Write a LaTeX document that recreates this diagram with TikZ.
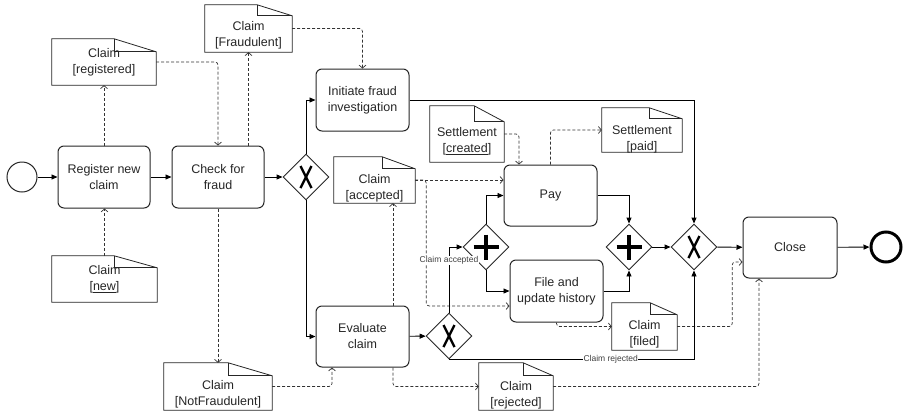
\documentclass[tikz,border=0pt]{standalone}
\usepackage{fontspec}
\setmainfont{Liberation Sans}
\usetikzlibrary{shapes.geometric,arrows.meta,calc}

% folded-corner outline of a data object, drawn round an (empty) named node
% #1 node name, #2 fold width, #3 fold height
\newcommand\docframe[3]{%
  \draw[docline] (#1.south west) -- (#1.north west) -- ([xshift=-#2pt]#1.north east)
    -- ([yshift=-#3pt]#1.north east) -- (#1.south east) -- cycle;
  \draw[docline] ([xshift=-#2pt]#1.north east) |- ([yshift=-#3pt]#1.north east);}

% gateway markers
\newcommand\xmark[1]{%
  \draw[xsym] ([shift={(-5.5,-11)}]#1.center) -- ([shift={(5.5,11)}]#1.center);
  \draw[xsym] ([shift={(5.5,-11)}]#1.center) -- ([shift={(-5.5,11)}]#1.center);}
\newcommand\pmark[1]{%
  \draw[psym] ([shift={(-12.5,0)}]#1.center) -- ([shift={(12.5,0)}]#1.center);
  \draw[psym] ([shift={(0,-12.5)}]#1.center) -- ([shift={(0,12.5)}]#1.center);}

\begin{document}
\begin{tikzpicture}[x=1pt,y=-1pt,
  font=\fontsize{12.5}{16}\selectfont,
  task/.style={draw=black!85,line width=1pt,rounded corners=6pt,minimum width=93pt,
    minimum height=62pt,align=center,inner sep=0pt,text=black!85},
  gate/.style={draw=black!85,line width=0.9pt,diamond,minimum size=46pt,inner sep=0pt,aspect=1},
  doc/.style={inner sep=0pt,draw=none},
  docline/.style={draw=black!85,line width=0.8pt,line join=miter},
  doctext/.style={align=center,inner sep=0pt,text=black!85},
  xsym/.style={line width=2.4pt,black},
  psym/.style={line width=3.8pt,black},
  flow/.style={draw=black,line width=0.9pt,-{Triangle[length=6pt,width=5pt]}},
  assoc/.style={draw=black!80,line width=0.7pt,dash pattern=on 3pt off 2pt,rounded corners=3pt,
    -{Straight Barb[length=3pt,width=7pt]}},
  lbl/.style={font=\fontsize{8.5}{10}\selectfont,fill=white,inner sep=0.5pt,text=black!75},
  startev/.style={circle,draw=black!85,line width=1pt,minimum size=30pt,inner sep=0pt},
  endev/.style={circle,draw=black,line width=3pt,minimum size=30pt,inner sep=0pt}
]
\fill[white] (0,0) rectangle (903,413);
\useasboundingbox (0,0) rectangle (903,413);

% events
\node[startev] (start) at (22,177) {};
\node[endev] (end) at (886,247) {};

% tasks
\node[task,minimum width=92pt] (reg) at (104,177) {Register new\\claim};
\node[task,minimum width=92pt] (chk) at (218,177) {Check for\\fraud};
\node[task] (ini) at (362.5,100) {Initiate fraud\\investigation};
\node[task,minimum height=61pt] (eva) at (362.5,336.5) {Evaluate\\claim};
\node[task,minimum height=61pt] (pay) at (550.5,195.5) {Pay};
\node[task] (fil) at (556.5,291) {File and\\update history};
\node[task,minimum width=94pt,minimum height=61pt] (clo) at (790,247.5) {Close};

% gateways
\node[gate] (gx1) at (306,177) {};
\node[gate] (gp1) at (486,247) {};
\node[gate] (gx2) at (449,336) {};
\node[gate] (gp2) at (629,247) {};
\node[gate] (gx3) at (694,247) {};
\xmark{gx1}\xmark{gx2}\xmark{gx3}
\pmark{gp1}\pmark{gp2}

% data objects
\node[doc,minimum width=104pt,minimum height=46pt] (dreg) at (104,62) {};
\node[doc,minimum width=87pt,minimum height=47pt] (dfra) at (248.5,28.5) {};
\node[doc,minimum width=105pt,minimum height=46pt] (dnew) at (104.5,279) {};
\node[doc,minimum width=108pt,minimum height=47pt] (dnot) at (218,386.5) {};
\node[doc,minimum width=81pt,minimum height=46pt] (dacc) at (374.5,180) {};
\node[doc,minimum width=74pt,minimum height=56pt] (dsc) at (467,134) {};
\node[doc,minimum width=80pt,minimum height=44pt] (dsp) at (642,130) {};
\node[doc,minimum width=65pt,minimum height=47pt] (dfil) at (644.5,326.5) {};
\node[doc,minimum width=74pt,minimum height=47pt] (drej) at (516,386.5) {};
\docframe{dreg}{42}{13}
\docframe{dfra}{35}{11}
\docframe{dnew}{43}{12}
\docframe{dnot}{44}{13}
\docframe{dacc}{33}{12}
\docframe{dsc}{30}{16}
\docframe{dsp}{33}{11}
\docframe{dfil}{27}{12}
\docframe{drej}{30}{13}
\node[doctext] at (dreg.center) {Claim\\{[}registered{]}};
\node[doctext] at ([yshift=-6.5pt]dfra.center) {Claim\\{[}Fraudulent{]}};
\node[doctext] at (dnew.center) {Claim\\{[}\underline{new}{]}};
\node[doctext] at ([yshift=-7.5pt]dnot.center) {Claim\\{[}NotFraudulent{]}};
\node[doctext] at ([yshift=-8pt]dacc.center) {Claim\\{[}accepted{]}};
\node[doctext] at ([yshift=-7pt]dsc.center) {Settlement\\{[}\underline{created}{]}};
\node[doctext] at ([yshift=-9pt]dsp.center) {Settlement\\{[}paid{]}};
\node[doctext] at ([yshift=-8pt]dfil.center) {Claim\\{[}filed{]}};
\node[doctext] at ([yshift=-8.5pt]drej.center) {Claim\\{[}rejected{]}};

% data associations
\draw[assoc] (reg.north) -- (dreg.south);
\draw[assoc] (dreg.east) -| (chk.north);
\draw[assoc] (dfra.south |- chk.north) -- (dfra.south);
\draw[assoc] (dfra.east) -| (ini.north);
\draw[assoc] (dnew.north) -- (dnew.north |- reg.south);
\draw[assoc] (chk.south) -- (chk.south |- dnot.north);
\draw[assoc] (dnot.east) -| ([xshift=-30.5pt]eva.south);
\draw[assoc] ([xshift=30.5pt]eva.north) -- ([xshift=30.5pt]eva.north |- dacc.south);
\draw[assoc] ([xshift=30.5pt]eva.south) |- (drej.west);
\draw[assoc] (drej.east) -| ([xshift=-31pt]clo.south);
\draw[assoc] (dacc.east) -- (dacc.east -| pay.west);
\draw[assoc] (dacc.east) -- ++(11,0) |- ([yshift=-15pt]fil.west);
\draw[assoc] (dsc.east) -| ([xshift=-31.5pt]pay.north);
\draw[assoc] (pay.north) |- (dsp.west);
\draw[assoc] (fil.south) |- (dfil.west);
\draw[assoc] (dfil.east) -- ++(55,0) |- ([yshift=-14.5pt]clo.west);

% sequence flows
\draw[flow] (start) -- (reg);
\draw[flow] (reg) -- (chk);
\draw[flow] (chk) -- (gx1);
\draw[flow] (gx1.north) |- (ini.west);
\draw[flow] (gx1.south) |- (eva.west);
\draw[flow] (eva) -- (gx2);
\draw[flow] (gx2.north) |- node[lbl,pos=0.4] {Claim accepted} (gp1.west);
\draw[flow] (gx2.south) -| node[lbl,pos=0.33] {Claim rejected} (gx3.south);
\draw[flow] (gp1.north) |- (pay.west);
\draw[flow] (gp1.south) |- (fil.west);
\draw[flow] (pay.east) -| (gp2.north);
\draw[flow] (fil.east) -| (gp2.south);
\draw[flow] (ini.east) -| (gx3.north);
\draw[flow] (gp2) -- (gx3);
\draw[flow] (gx3) -- (clo);
\draw[flow] (clo) -- (end);
\end{tikzpicture}
\end{document}
